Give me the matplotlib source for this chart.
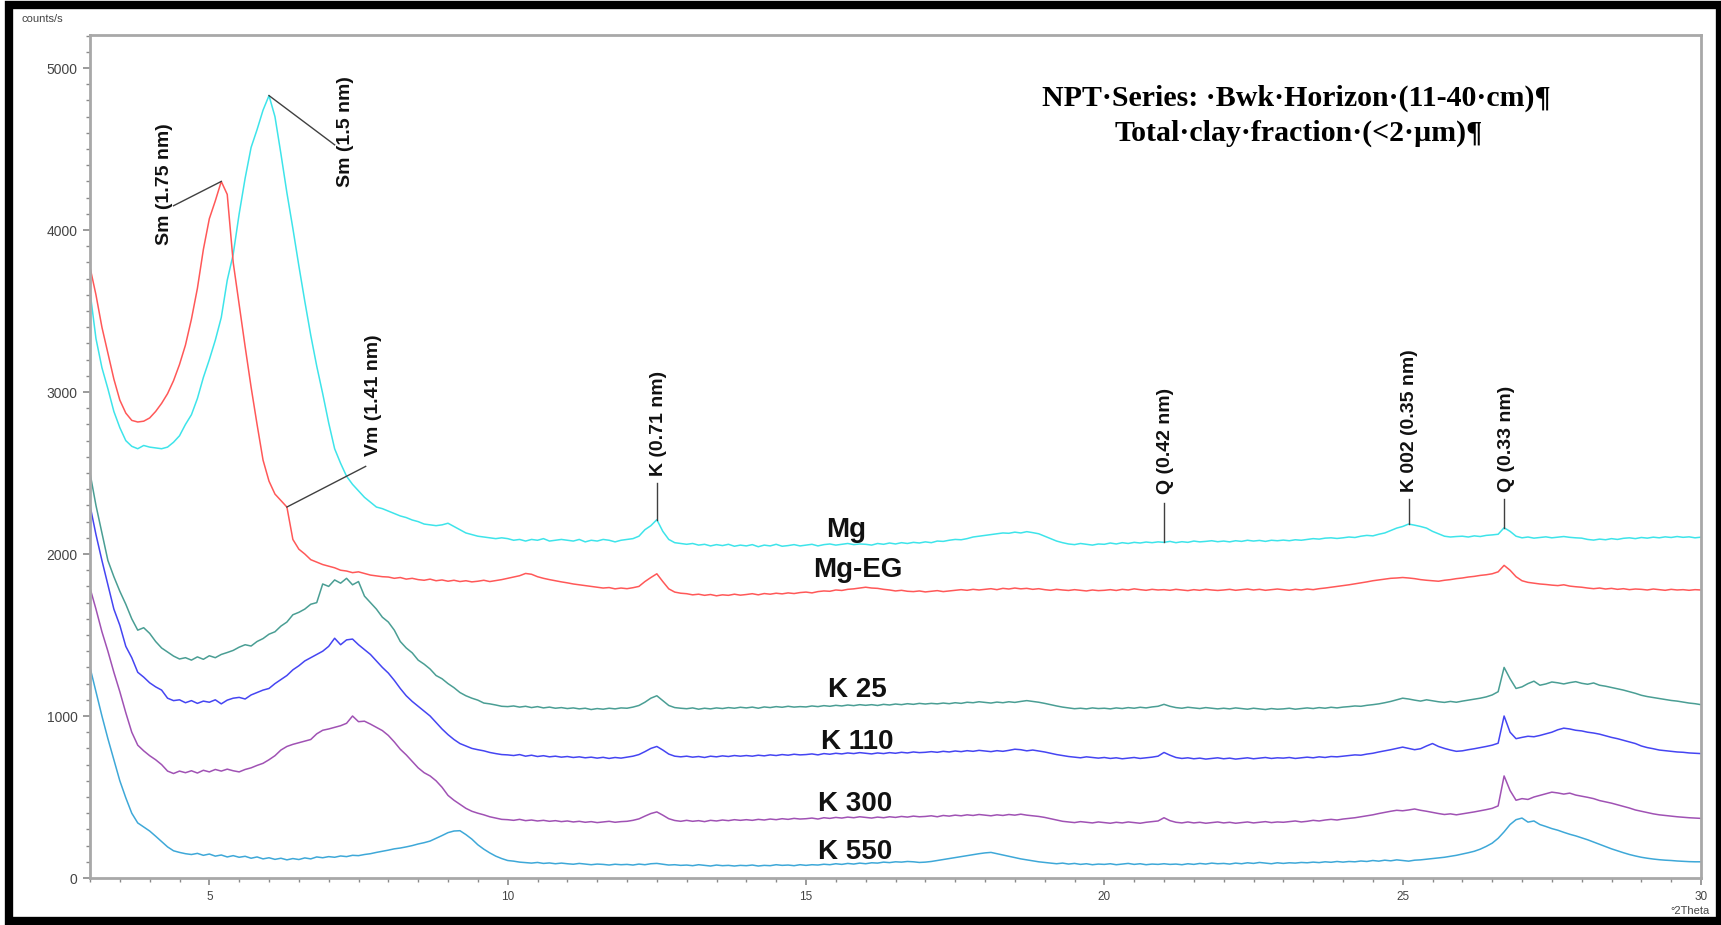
import numpy as np
import matplotlib
matplotlib.use("Agg")
import matplotlib.pyplot as plt
from matplotlib.ticker import MultipleLocator
from matplotlib.patches import Rectangle

plt.rcParams['font.family'] = ['Liberation Sans', 'DejaVu Sans']

# 2Theta grid (degrees), 0.1 step from 3 to 30
two_theta = np.round(np.arange(3.0, 30.05, 0.1), 1)

# counts/s, one row per degree
mg = [
    3620, 3330, 3150, 3020, 2880, 2780, 2700, 2665, 2650, 2670,
    2660, 2655, 2650, 2660, 2690, 2730, 2800, 2860, 2960, 3090,
    3200, 3320, 3460, 3690, 3850, 4100, 4320, 4510, 4620, 4740,
    4830, 4700, 4470, 4230, 4010, 3780, 3560, 3350, 3160, 2990,
    2810, 2650, 2560, 2480, 2430, 2390, 2350, 2320, 2290, 2280,
    2265, 2250, 2235, 2225, 2210, 2200, 2185, 2180, 2175, 2180,
    2190, 2170, 2150, 2130, 2120, 2110, 2105, 2100, 2095, 2100,
    2095, 2085, 2090, 2080, 2090, 2085, 2095, 2080, 2085, 2090,
    2085, 2080, 2090, 2075, 2085, 2080, 2090, 2085, 2075, 2085,
    2090, 2095, 2110, 2150, 2175, 2212, 2140, 2090, 2070, 2065,
    2060, 2065, 2055, 2060, 2050, 2058, 2052, 2060, 2048, 2055,
    2050, 2058, 2045, 2055, 2050, 2060, 2048, 2052, 2058, 2050,
    2055, 2060, 2050, 2058, 2062, 2055, 2060, 2065, 2058, 2062,
    2060, 2055, 2065, 2060, 2068, 2062, 2070, 2065, 2072, 2068,
    2075, 2070, 2080, 2078, 2085, 2090, 2088, 2095, 2105, 2110,
    2115, 2120, 2125, 2130, 2128, 2135, 2130, 2138, 2132, 2125,
    2110, 2095, 2080, 2070, 2062, 2058, 2065, 2060, 2055, 2062,
    2060, 2068, 2062, 2070, 2065, 2072, 2068, 2074, 2070, 2075,
    2072, 2078, 2070, 2076, 2072, 2080, 2075, 2078, 2082, 2076,
    2080, 2075, 2082, 2078, 2085, 2080, 2084, 2078, 2085, 2082,
    2086, 2082, 2088, 2085, 2090, 2095, 2092, 2098, 2100, 2096,
    2100, 2105, 2102, 2110, 2115, 2112, 2122, 2130, 2145, 2160,
    2170, 2185, 2178, 2170, 2160, 2140, 2125, 2110, 2105, 2108,
    2110, 2105, 2112, 2108, 2115, 2118, 2122, 2162, 2140, 2110,
    2100, 2105, 2098, 2102, 2106, 2100, 2104, 2108, 2103, 2100,
    2098, 2090, 2086, 2092, 2088, 2095, 2090, 2097, 2100, 2095,
    2102, 2098, 2104, 2100, 2106, 2102, 2108, 2103, 2106, 2100,
    2104]

mg_eg = [
    3770, 3600, 3400, 3240, 3080, 2950, 2870, 2825, 2815, 2820,
    2840, 2880, 2930, 2990, 3070, 3170, 3290, 3450, 3640, 3880,
    4070, 4180, 4300, 4220, 3800, 3540, 3280, 3030, 2800, 2580,
    2450, 2370, 2330, 2290, 2090, 2030, 2000, 1965, 1950, 1935,
    1925, 1915, 1900, 1895, 1885, 1890, 1880, 1870, 1865, 1860,
    1858, 1850, 1855, 1845, 1850, 1842, 1838, 1845, 1835, 1840,
    1832, 1838, 1830, 1835, 1828, 1832, 1838, 1830, 1836, 1842,
    1850, 1858, 1866, 1880, 1875, 1860, 1850, 1842, 1835, 1828,
    1822, 1815, 1810, 1805, 1800, 1795, 1790, 1793, 1785, 1790,
    1786, 1792, 1800, 1830, 1855, 1878, 1830, 1785, 1765, 1758,
    1755, 1748, 1752, 1745, 1750, 1742, 1748, 1745, 1752, 1746,
    1750, 1755, 1748, 1756, 1752, 1758, 1754, 1760, 1756, 1762,
    1765, 1760, 1768, 1772, 1770, 1778, 1775, 1782, 1785, 1790,
    1795, 1790, 1788, 1782, 1778, 1772, 1776, 1770, 1768, 1772,
    1766, 1770, 1774, 1768, 1772, 1776, 1780, 1776, 1782, 1778,
    1782, 1786, 1780, 1788, 1784, 1790, 1785, 1788, 1782, 1786,
    1780, 1776, 1782, 1778, 1775, 1780, 1776, 1772, 1778, 1774,
    1776, 1780, 1775, 1782, 1778, 1785, 1780, 1776, 1782, 1778,
    1780, 1776, 1782, 1778, 1774, 1780, 1776, 1782, 1778, 1775,
    1778, 1782, 1776, 1780, 1784, 1778, 1782, 1776, 1780, 1784,
    1780, 1776, 1782, 1778, 1784, 1780, 1786, 1790, 1795, 1800,
    1805, 1810, 1816, 1822, 1828, 1835, 1840, 1845, 1850, 1852,
    1855, 1852, 1848, 1842, 1838, 1835, 1832, 1838, 1842, 1848,
    1852, 1858, 1862, 1868, 1872, 1878, 1890, 1930, 1900, 1860,
    1835, 1825, 1820, 1815, 1812, 1808, 1805, 1810, 1802, 1798,
    1795, 1790, 1786, 1790, 1784, 1788, 1782, 1786, 1780, 1784,
    1782, 1778, 1784, 1780, 1776, 1782, 1778, 1780, 1776, 1780,
    1778]

k25 = [
    2500, 2300, 2130, 1960, 1860, 1770, 1690, 1600, 1530, 1545,
    1510, 1460, 1420, 1395, 1370, 1352, 1360, 1345, 1365, 1350,
    1372, 1360, 1380, 1392, 1405, 1425, 1440, 1432, 1460, 1478,
    1505, 1520, 1555, 1580, 1625, 1640, 1660, 1690, 1700, 1815,
    1800, 1840, 1820, 1850, 1810, 1830, 1740, 1700, 1660, 1610,
    1580, 1530, 1460, 1420, 1390, 1345, 1320, 1290, 1250, 1230,
    1200, 1175, 1145, 1125, 1110, 1098, 1080, 1075, 1068, 1060,
    1058, 1062, 1055, 1060, 1052, 1058, 1050, 1055, 1048, 1052,
    1046, 1050, 1044, 1048, 1040, 1046, 1042, 1048, 1044, 1050,
    1048, 1055, 1065, 1085, 1110, 1125, 1095, 1065, 1052, 1048,
    1045, 1050, 1042, 1048, 1044, 1050, 1046, 1052, 1048, 1054,
    1050, 1055, 1048, 1056, 1052, 1058, 1054, 1060, 1055, 1058,
    1056, 1062, 1058, 1064, 1060, 1066, 1062, 1068, 1064, 1070,
    1066, 1070, 1065, 1072, 1068, 1074, 1070, 1076, 1072, 1078,
    1074, 1078, 1075, 1080, 1076, 1082, 1078, 1085, 1082, 1088,
    1084, 1080, 1086, 1082, 1088, 1084, 1090, 1095, 1090, 1085,
    1078, 1070, 1062, 1055, 1050, 1045, 1048, 1044, 1050, 1046,
    1048, 1044, 1050, 1046, 1052, 1048, 1054, 1050, 1056, 1060,
    1072, 1060, 1052, 1048, 1054, 1050, 1046, 1052, 1048, 1044,
    1048, 1044, 1050, 1046, 1042, 1048, 1044, 1040, 1046, 1042,
    1044, 1048, 1042, 1046, 1050, 1046, 1052, 1048, 1054, 1050,
    1055, 1058, 1062, 1060, 1066, 1070, 1075, 1082, 1090, 1100,
    1110, 1105, 1098, 1092, 1100, 1094, 1088, 1084, 1090, 1085,
    1092, 1098, 1104, 1110, 1118, 1130, 1150, 1300, 1230, 1170,
    1180, 1200, 1215, 1190, 1198, 1210, 1205, 1198, 1206, 1212,
    1202, 1196, 1204, 1190, 1184, 1176, 1168, 1160, 1150, 1140,
    1128, 1120, 1114, 1108, 1102, 1096, 1092, 1086, 1080, 1076,
    1070]

k110 = [
    2300, 2120, 1960, 1810, 1660, 1560, 1430, 1360, 1270, 1240,
    1205, 1180, 1160, 1110, 1095, 1100, 1082, 1095, 1078, 1092,
    1085, 1100, 1075, 1098, 1110, 1115, 1105, 1130, 1145, 1160,
    1170, 1200, 1225, 1250, 1285, 1310, 1340, 1360, 1380, 1400,
    1430, 1480, 1440, 1470, 1475, 1440, 1410, 1380, 1340, 1300,
    1265, 1220, 1170, 1125, 1090, 1060, 1030, 1000, 960, 920,
    885, 855, 830, 815, 800, 792, 785, 775, 768, 762,
    760, 756, 762, 752, 758, 750, 755, 748, 752, 746,
    750, 744, 748, 742, 746, 740, 745, 738, 744, 740,
    746, 752, 762, 780, 800, 812, 790, 765, 752, 748,
    752, 746, 750, 744, 752, 748, 754, 750, 756, 752,
    756, 752, 758, 754, 760, 756, 762, 758, 764, 760,
    762, 766, 760, 768, 764, 770, 766, 772, 768, 774,
    770, 766, 772, 768, 774, 770, 776, 772, 778, 774,
    776, 780, 776, 782, 778, 784, 780, 786, 782, 788,
    784, 780, 786, 782, 788, 795, 792, 785, 790, 784,
    778, 770, 762, 756, 750, 746, 742, 748, 744, 740,
    744, 738, 742, 736, 740, 744, 738, 742, 746, 752,
    775, 758, 744, 738, 742, 736, 740, 734, 738, 742,
    736, 740, 734, 738, 742, 736, 740, 744, 738, 742,
    740, 744, 738, 742, 746, 742, 748, 744, 750, 748,
    752, 756, 760, 758, 765, 770, 778, 785, 792, 800,
    808, 800, 792, 798, 815, 830, 812, 800, 790, 782,
    785, 792, 798, 805, 812, 820, 832, 1000, 900, 860,
    868, 875, 872, 880, 890, 900, 915, 925, 920, 912,
    908, 900, 895, 888, 878, 868, 860, 850, 840, 830,
    815, 805, 798, 790, 786, 782, 778, 776, 772, 770,
    768]

k300 = [
    1790, 1660, 1520, 1400, 1270, 1150, 1020, 900, 820, 785,
    755, 730, 700, 660, 645, 660, 650, 662, 648, 665,
    655, 670, 660, 672, 662, 655, 670, 680, 695, 708,
    730, 755, 790, 812, 825, 835, 845, 855, 890, 912,
    920, 930, 940, 955, 1000, 965, 968, 950, 930, 910,
    880, 840, 795, 760, 720, 680, 650, 630, 600, 560,
    510, 480, 455, 430, 412, 400, 390, 378, 370, 362,
    360, 356, 362, 354, 358, 352, 356, 350, 354, 348,
    352, 346, 350, 344, 348, 342, 346, 350, 344, 348,
    350, 356, 365, 382, 398, 408, 388, 366, 355, 350,
    356, 350, 354, 348, 356, 352, 358, 354, 360, 356,
    360, 356, 362, 358, 364, 360, 366, 362, 368, 364,
    366, 370, 364, 372, 368, 374, 370, 376, 372, 378,
    374, 370, 376, 372, 378, 374, 380, 376, 382, 378,
    380, 384, 378, 386, 382, 388, 384, 390, 386, 392,
    388, 384, 390, 386, 392, 388, 394, 388, 384, 380,
    374, 366, 358, 350, 346, 342, 348, 344, 340, 346,
    342, 338, 344, 340, 346, 342, 338, 344, 348, 352,
    372, 354, 344, 340, 346, 340, 344, 338, 342, 346,
    340, 344, 338, 342, 346, 340, 344, 348, 342, 346,
    344, 348, 352, 346, 350, 356, 352, 358, 362, 358,
    364, 368, 372, 378, 384, 390, 398, 405, 412, 418,
    415, 420, 426, 418, 412, 405, 398, 392, 396, 390,
    396, 402, 408, 415, 422, 430, 445, 630, 540, 480,
    490, 485, 500, 510, 520, 530, 525, 518, 524, 512,
    505, 498, 490, 478, 470, 462, 452, 442, 432, 420,
    412, 404, 396, 390, 386, 382, 378, 375, 372, 370,
    368]

k550 = [
    1300, 1150, 1000, 860, 730, 600, 495, 400, 340, 315,
    290, 258, 225, 192, 168, 158, 150, 145, 152, 140,
    148, 135, 142, 130, 138, 128, 134, 122, 130, 118,
    125, 115, 122, 112, 120, 114, 124, 118, 130, 125,
    132, 128, 136, 132, 140, 138, 145, 150, 158, 165,
    172, 180, 185, 192, 200, 210, 218, 228, 245, 262,
    280, 290, 292, 268, 240, 205, 178, 155, 135, 120,
    108, 104, 98, 95, 92, 96, 90, 93, 88, 92,
    88, 85, 90, 86, 82, 86, 84, 80, 85, 82,
    84, 80, 86, 82, 88, 90, 85, 80, 82, 78,
    80, 76, 82, 78, 74, 80, 76, 78, 74, 78,
    76, 80, 74, 78, 76, 82, 78, 80, 76, 82,
    78, 82, 80, 85, 82, 88, 84, 90, 86, 92,
    88, 94, 92, 98, 95, 100, 98, 102, 100, 96,
    98, 102, 108, 114, 120, 126, 132, 138, 144, 150,
    155, 158, 150, 142, 134, 126, 118, 112, 106, 100,
    96, 92, 88, 92, 86, 90, 84, 88, 82, 86,
    84, 88, 82, 86, 90, 84, 88, 82, 86, 84,
    88, 84, 86, 82, 88, 84, 90, 86, 92, 88,
    90, 86, 92, 88, 94, 90, 96, 92, 88, 94,
    90, 94, 92, 96, 94, 98, 95, 100, 97, 102,
    98, 102, 100, 105, 102, 108, 104, 110, 106, 112,
    108, 104, 110, 112, 116, 120, 124, 128, 134, 140,
    148, 156, 165, 178, 195, 215, 245, 285, 330, 360,
    370, 345, 352, 330, 318, 305, 295, 282, 270, 260,
    248, 236, 222, 208, 194, 180, 168, 156, 145, 136,
    128, 122, 117, 113, 110, 108, 105, 103, 101, 100,
    100]

series_names = ["Mg", "Mg-EG", "K 25", "K 110", "K 300", "K 550"]
series_data = [mg, mg_eg, k25, k110, k300, k550]
series_colors = ["#3ee4ea", "#ff5858", "#4a9e94", "#4545f2", "#a052b4", "#3ea8d8"]
# where each series name is written (2Theta, counts)
label_pos = [(15.68, 2150), (15.86, 1900), (15.86, 1160), (15.86, 840), (15.82, 455), (15.82, 158)]

fig = plt.figure(figsize=(17.21, 9.25), dpi=100)
ax = fig.add_axes([90 / 1721, 47 / 925, (1701 - 90) / 1721, (878 - 35) / 925])

for name, vals, col, (lx, ly) in zip(series_names, series_data, series_colors, label_pos):
    ax.plot(two_theta, vals, color=col, lw=1.1)
    ax.text(lx, ly, name, fontsize=20, fontweight='bold', ha='center', va='center', color='#111')

ax.set_xlim(3, 30)
ax.set_ylim(0, 5204)

def at(series, x):
    return series[int(round((x - 3.0) * 10))]

# peak labels: text, curve, peak 2Theta, leader end (x, y), text centre (x, y)
peaks = [
    ("Sm (1.75 nm)", mg_eg, 5.2, (4.40, 4150), (4.25, 4282)),
    ("Sm (1.5 nm)", mg, 6.0, (7.10, 4526), (7.29, 4607)),
    ("Vm (1.41 nm)", mg_eg, 6.3, (7.62, 2541), (7.75, 2981)),
    ("K (0.71 nm)", mg, 12.5, (12.5, 2440), (12.52, 2805)),
    ("Q (0.42 nm)", mg, 21.0, (21.0, 2317), (21.03, 2696)),
    ("K 002 (0.35 nm)", mg, 25.1, (25.1, 2337), (25.12, 2825)),
    ("Q (0.33 nm)", mg, 26.7, (26.7, 2337), (26.74, 2710)),
]
for txt, ser, px, (ex, ey), (tx, ty) in peaks:
    ax.plot([px, ex], [at(ser, px), ey], color='#404040', lw=1.0)
    ax.text(tx, ty, txt, rotation=90, fontsize=14, fontweight='bold',
            ha='center', va='center', color='#111')

for s in ax.spines.values():
    s.set_color('#a8a8a8')
    s.set_linewidth(2)
ax.xaxis.set_major_locator(MultipleLocator(5))
ax.xaxis.set_minor_locator(MultipleLocator(0.5))
ax.yaxis.set_major_locator(MultipleLocator(1000))
ax.yaxis.set_minor_locator(MultipleLocator(100))
ax.tick_params(which='both', direction='out', color='#8a8a8a', labelcolor='#444',
               top=False, right=False)
ax.tick_params(which='major', length=5, width=1.2, pad=4)
ax.tick_params(which='minor', length=3, width=1)
ax.tick_params(axis='x', labelsize=8.5)
ax.tick_params(axis='y', labelsize=10)
ax.set_xticks([5, 10, 15, 20, 25, 30])

fig.text(22 / 1721, 1 - 19 / 925, "counts/s", fontsize=8, color='#444', va='center')
fig.text(1710 / 1721, 1 - 911 / 925, "°2Theta", fontsize=8, color='#444', va='center', ha='right')

fig.text(1296 / 1721, 1 - 98 / 925, "NPT·Series: ·Bwk·Horizon·(11-40·cm)¶",
         family='Liberation Serif', fontweight='bold', fontsize=21.5, ha='center', va='center')
fig.text(1299 / 1721, 1 - 133 / 925, "Total·clay·fraction·(<2·µm)¶",
         family='Liberation Serif', fontweight='bold', fontsize=21.5, ha='center', va='center')

# black border of the pasted picture
fig.add_artist(Rectangle((9 / 1721, 4 / 925), 1711 / 1721, 916 / 925, transform=fig.transFigure,
                         fill=False, edgecolor='black', lw=6))

fig.savefig("out.png", dpi=100)
